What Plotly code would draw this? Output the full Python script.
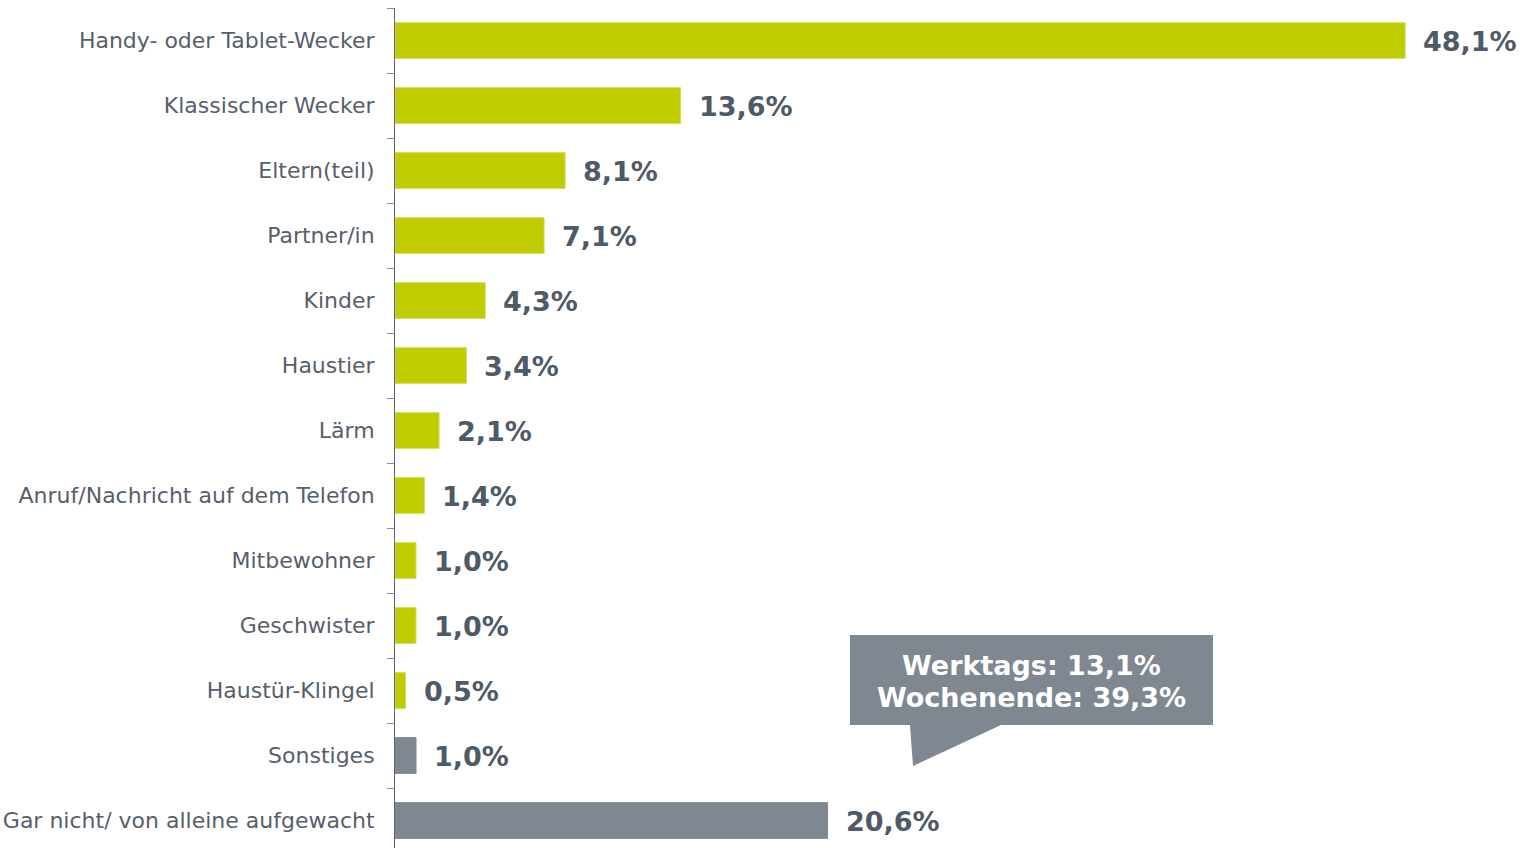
import plotly.graph_objects as go

# Daten
categories = [
    "Handy- oder Tablet-Wecker",
    "Klassischer Wecker",
    "Eltern(teil)",
    "Partner/in",
    "Kinder",
    "Haustier",
    "Lärm",
    "Anruf/Nachricht auf dem Telefon",
    "Mitbewohner",
    "Geschwister",
    "Haustür-Klingel",
    "Sonstiges",
    "Gar nicht/ von alleine aufgewacht",
]
values = [48.1, 13.6, 8.1, 7.1, 4.3, 3.4, 2.1, 1.4, 1.0, 1.0, 0.5, 1.0, 20.6]
groups = ["weckquelle"] * 11 + ["sonstiges"] * 2

werktags = 13.1
wochenende = 39.3

GREEN = "#BFCD00"
GREY = "#7F8790"
TEXT = "#4E5A66"
LABEL = "#56606B"
FONT = "DejaVu Sans"

def fmt(v):
    return f"{v:.1f}".replace(".", ",") + "%"

colors = [GREEN if g == "weckquelle" else GREY for g in groups]
lines = ["#D2DC5A" if g == "weckquelle" else GREY for g in groups]

fig = go.Figure()
fig.add_trace(go.Bar(
    x=values, y=categories, orientation="h",
    marker=dict(color=colors, line=dict(color=lines, width=1)),
    hoverinfo="skip",
))

# Wertebeschriftungen
for cat, v in zip(categories, values):
    fig.add_annotation(
        x=v, y=cat, text="<b>" + fmt(v) + "</b>", showarrow=False,
        xanchor="left", xshift=16, yshift=-1,
        font=dict(family=FONT, size=27, color=TEXT),
    )

# Sprechblase
W, H = 1535, 848
ml, mt = 395, 8
pw, ph = W - ml, H - mt

def px(x):
    return (x - ml) / pw

def py(y):
    return (H - y) / ph

box = [(850, 635), (1213, 635), (1213, 725), (1001, 725), (913, 766), (910, 725), (850, 725)]
path = "M " + " L ".join(f"{px(x):.5f},{py(y):.5f}" for x, y in box) + " Z"
fig.add_shape(type="path", xref="paper", yref="paper", path=path,
              fillcolor=GREY, line=dict(width=0), layer="above")
for txt, ypix in [(f"Werktags: {fmt(werktags)}", 665), (f"Wochenende: {fmt(wochenende)}", 697)]:
    fig.add_annotation(
        xref="paper", yref="paper", x=px(1031.5), y=py(ypix),
        text="<b>" + txt + "</b>",
        showarrow=False, xanchor="center", yanchor="middle",
        font=dict(family=FONT, size=27, color="white"),
    )

fig.update_layout(
    width=W, height=H,
    margin=dict(l=ml, r=0, t=mt, b=0),
    paper_bgcolor="white", plot_bgcolor="white",
    bargap=0.45,
    showlegend=False,
    xaxis=dict(range=[0, pw / 21.0], visible=False, showgrid=False, zeroline=False),
    yaxis=dict(
        type="category",
        range=[-0.5 + ph / 65.0, -0.5],
        showline=True, linecolor="#5D6670", linewidth=1,
        ticks="outside", ticklen=7, tickcolor="#8A9099", tickson="boundaries",
        ticklabelstandoff=15,
        tickfont=dict(family=FONT, size=22, color=LABEL),
        showgrid=False, zeroline=False,
    ),
)

fig.write_html("out.html", config={"displayModeBar": False},
               post_script="document.body.style.margin='0';document.body.style.overflow='hidden';")
